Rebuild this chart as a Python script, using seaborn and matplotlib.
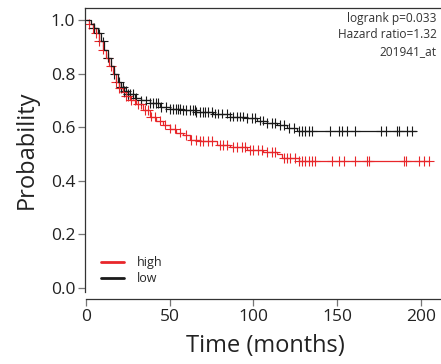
import numpy as np
import pandas as pd
import matplotlib
matplotlib.use("Agg")
import matplotlib.pyplot as plt
from matplotlib.lines import Line2D
import seaborn as sns

# ---- data ----
groups = ["high", "low"]
colors = ["#e8262a", "#1a1a1a"]

high_t = [0, 2, 4, 6, 8, 10, 12, 14, 16, 18, 20, 22, 24, 26, 30, 34, 38, 42, 46, 50, 54, 58, 62, 68, 78, 86, 96, 106, 114, 117, 127, 205]
high_s = [1.0, 0.985, 0.97, 0.95, 0.92, 0.89, 0.86, 0.83, 0.80, 0.77, 0.745, 0.73, 0.715, 0.70, 0.685, 0.665, 0.64, 0.625, 0.61, 0.595, 0.58, 0.57, 0.552, 0.548, 0.535, 0.525, 0.515, 0.508, 0.50, 0.485, 0.473, 0.473]

low_t = [0, 3, 5, 7, 9, 11, 13, 15, 17, 19, 21, 23, 25, 29, 33, 38, 44, 50, 58, 66, 76, 86, 96, 102, 108, 114, 120, 126, 197]
low_s = [1.0, 0.985, 0.97, 0.95, 0.92, 0.89, 0.86, 0.83, 0.80, 0.77, 0.75, 0.735, 0.725, 0.71, 0.70, 0.69, 0.677, 0.668, 0.663, 0.657, 0.651, 0.64, 0.634, 0.625, 0.617, 0.607, 0.598, 0.585, 0.585]

high_cens = [2, 4, 6, 8, 10, 13, 15, 18, 20, 21, 23, 24, 25, 27, 29, 31, 33, 35, 37, 39, 41, 44, 47, 50, 53, 56, 60, 63, 66, 68, 70, 73, 75,
             80, 82, 84, 88, 90, 93, 95, 98, 100, 103, 105, 108, 111, 113, 118, 120, 122, 125, 127, 129, 131, 133, 135, 137,
             147, 151, 154, 161, 168, 169, 190, 191, 199, 202, 205]
low_cens = [5, 8, 10, 13, 17, 20, 21, 22, 23, 24, 25, 26, 28, 30, 33, 36, 38, 40, 42, 43, 45, 48, 50, 52, 54, 55, 56, 58, 60, 62,
            64, 65, 66, 68, 70, 71, 73, 75, 77, 79, 81, 84, 86, 88, 90, 92, 94, 96, 99, 101, 104, 106, 108, 111, 113, 116, 118,
            121, 124, 127, 129, 131, 133, 135, 146, 151, 153, 156, 161, 176, 179, 186, 187, 192, 195]

annot = ["logrank p=0.033", "Hazard ratio=1.32", "201941_at"]
x_ticks = [0, 50, 100, 150, 200]
y_ticks = [0.0, 0.2, 0.4, 0.6, 0.8, 1.0]


def step_at(times, surv, c):
    idx = np.searchsorted(np.asarray(times), np.asarray(c), side="right") - 1
    return np.asarray(surv)[idx]


curves = pd.concat([
    pd.DataFrame({"time": high_t, "surv": high_s, "group": "high"}),
    pd.DataFrame({"time": low_t, "surv": low_s, "group": "low"}),
])
cens = pd.concat([
    pd.DataFrame({"time": high_cens, "surv": step_at(high_t, high_s, high_cens), "group": "high"}),
    pd.DataFrame({"time": low_cens, "surv": step_at(low_t, low_s, low_cens), "group": "low"}),
])

sns.set_style("white")
font = ["Open Sans", "DejaVu Sans"]
plt.rcParams["font.family"] = font

fig = plt.figure(figsize=(4.41, 3.64), dpi=100)
ax = fig.add_axes([85 / 441, 1 - 292 / 364, 1.011 - 85 / 441, (292 - 8) / 364])

palette = dict(zip(groups, colors))
sns.lineplot(data=curves, x="time", y="surv", hue="group", palette=palette, drawstyle="steps-post",
             estimator=None, sort=False, linewidth=0.9, legend=False, ax=ax)
sns.scatterplot(data=cens, x="time", y="surv", hue="group", palette=palette, marker="+", s=50,
                linewidth=0.8, legend=False, ax=ax)

ax.set_xlim(-0.6, 215)
ax.set_ylim(-0.015, 1.045)
ax.set_xticks(x_ticks)
ax.set_yticks(y_ticks)
ax.set_xticklabels([str(v) for v in x_ticks])
ax.set_yticklabels([f"{v:.1f}" for v in y_ticks])

for s in ["top", "left", "bottom"]:
    ax.spines[s].set_visible(True)
    ax.spines[s].set_color("#333333")
    ax.spines[s].set_linewidth(0.9)
ax.spines["right"].set_visible(False)
ax.spines["bottom"].set_position(("outward", 5))
ax.spines["bottom"].set_bounds(0, 215)

ax.tick_params(axis="both", which="major", direction="out", length=5, width=0.9, color="#777777",
               labelsize=12.5, labelcolor="#222222", bottom=True, left=True, pad=2)

ax.set_xlabel("Time (months)", fontsize=17, color="#222222", labelpad=7)
ax.set_ylabel("Probability", fontsize=17, color="#222222", labelpad=9)

for i, t in enumerate(annot):
    ax.text(0.975, 0.987 - i * 0.058, t, transform=ax.transAxes, ha="right", va="top",
            fontsize=8.6, color="#333333")

handles = [Line2D([0], [0], color=c, lw=2.0) for c in colors]
ax.legend(handles, groups, loc="lower left", bbox_to_anchor=(0.012, -0.015), frameon=False,
          fontsize=9, handlelength=1.9, handletextpad=1.0, labelspacing=0.25)

fig.savefig("out.png", dpi=100)
